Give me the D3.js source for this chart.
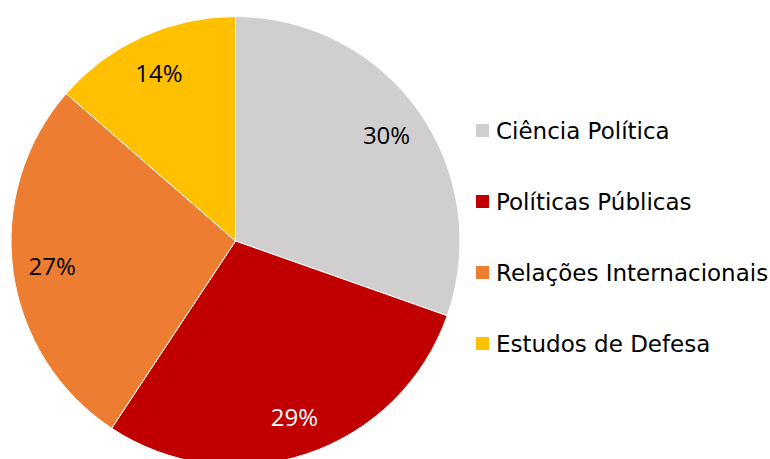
<!DOCTYPE html>
<html><head><meta charset="utf-8">
<script src="https://cdn.jsdelivr.net/npm/d3@7"></script>
<style>body{margin:0;background:#fff}svg{display:block}</style>
</head><body>
<svg id="c" width="770" height="459"></svg>
<script>
const categories = ["Ciência Política", "Políticas Públicas", "Relações Internacionais", "Estudos de Defesa"];
const values = [30.4, 28.9, 27.1, 13.6];
const labels = ["30%", "29%", "27%", "14%"];
const colors = ["#D0CECF", "#C00000", "#ED7D31", "#FFC000"];
const labelColors = ["#000", "#fff", "#000", "#000"];

const svg = d3.select("#c");
const cx = 235.5, cy = 241, R = 224.5;
const data = categories.map((c, i) => ({c, v: values[i], i}));
const pie = d3.pie().value(d => d.v).sort(null);
const arc = d3.arc().innerRadius(0).outerRadius(R);
const labelArc = d3.arc().innerRadius(185).outerRadius(185);
const g = svg.append("g").attr("transform", `translate(${cx},${cy})`);
const arcs = pie(data);
g.selectAll("path").data(arcs).join("path")
  .attr("d", arc).attr("fill", d => colors[d.data.i])
  .attr("stroke", "#fff").attr("stroke-width", 1);
g.selectAll("text").data(arcs).join("text")
  .attr("transform", d => `translate(${labelArc.centroid(d)})`)
  .attr("text-anchor", "middle").attr("dominant-baseline", "central")
  .attr("font-family", "'Open Sans', sans-serif").attr("font-size", 24)
  .attr("fill", d => labelColors[d.data.i])
  .text(d => labels[d.data.i]);

const lg = svg.append("g");
const rows = lg.selectAll("g").data(categories).join("g")
  .attr("transform", (d, i) => `translate(476,${131 + i * 71})`);
rows.append("rect").attr("x", 0).attr("y", -7).attr("width", 13).attr("height", 13)
  .attr("fill", (d, i) => colors[i]);
rows.append("text").attr("x", 20).attr("y", 0).attr("dominant-baseline", "central")
  .attr("font-family", "'DejaVu Sans', Verdana, sans-serif").attr("font-size", 23)
  .attr("fill", "#000").text(d => d);
</script>
</body></html>
